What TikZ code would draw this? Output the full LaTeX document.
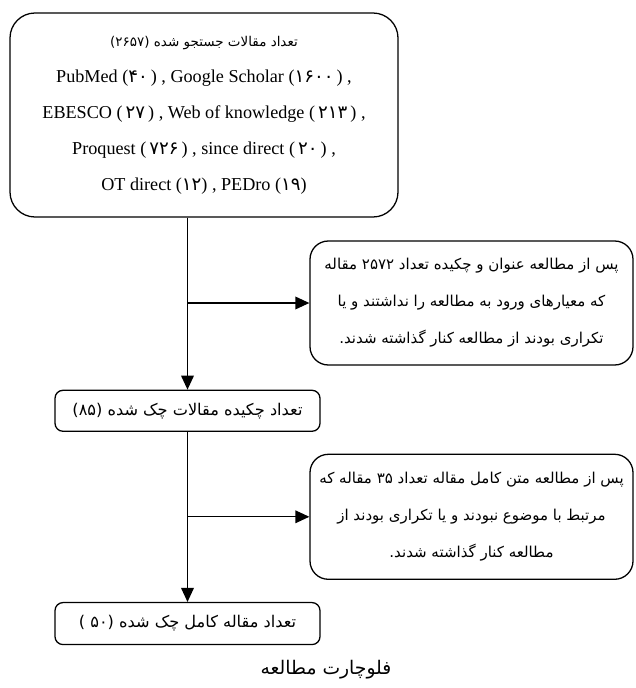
\documentclass[tikz,border=0pt]{standalone}
\usepackage{fontspec}
\setmainfont{Liberation Serif}
\newfontfamily\arabicfont[Script=Arabic]{DejaVu Sans}
\TeXXeTstate=1
\usetikzlibrary{shapes,arrows.meta,positioning}
\newcommand{\fa}[1]{{\arabicfont #1}}

\begin{document}
\begin{tikzpicture}[line width=1.1pt]
        \tikzstyle{searchbox} = [rectangle, draw, rounded corners=0.75cm, minimum width=11.64cm, minimum height=6.12cm, align=center, font=\fontsize{15.5}{30.7}\selectfont]
        \tikzstyle{countbox} = [rectangle, draw, rounded corners=0.24cm, minimum width=7.95cm, minimum height=1.23cm, align=center, font=\arabicfont\fontsize{13.8}{16}\selectfont]
        \tikzstyle{exclbox} = [rectangle, draw, rounded corners=0.55cm, minimum width=9.69cm, minimum height=3.72cm, align=center, inner xsep=2pt, font=\arabicfont\fontsize{12.8}{31.5}\selectfont]
        \tikzstyle{line} = [draw, -{Triangle[length=0.42cm, width=0.38cm]}]

        \useasboundingbox (0,0) rectangle (19.05,-20.64);

        \node [searchbox] (search) at (6.12,-3.45) {{\arabicfont\fontsize{11.5}{14}\selectfont\beginR تعداد مقالات جستجو شده (۲۶۵۷)\endR}\\
            PubMed (\fa{۴۰}\,) , Google Scholar (\fa{۱۶۰۰}\,) ,\\
            EBESCO (\,\fa{۲۷}\,) , Web of knowledge (\,\fa{۲۱۳}\,) ,\\
            Proquest (\,\fa{۷۲۶}\,) , since direct (\,\fa{۲۰}\,) ,\\
            OT direct (\fa{۱۲}) , PEDro (\fa{۱۹})};
        \node [countbox, below=5.16cm of search.south, xshift=-0.495cm] (abstracts) {\beginR تعداد چکیده مقالات چک شده (۸۵)\endR};
        \node [countbox, below=5.1cm of abstracts, minimum height=1.26cm] (fulltexts) {\beginR تعداد مقاله کامل چک شده (۵۰ )\endR};

        \node [exclbox] (exclone) at (14.145,-9.09) {\beginR پس از مطالعه عنوان و چکیده تعداد ۲۵۷۲ مقاله\endR\\
            \beginR که معیارهای ورود به مطالعه را نداشتند و یا\endR\\
            \beginR تکراری بودند از مطالعه کنار گذاشته شدند.\endR};
        \node [exclbox, below=2.64cm of exclone, minimum height=3.75cm] (excltwo) {\beginR پس از مطالعه متن کامل مقاله تعداد ۳۵ مقاله که\endR\\
            \beginR مرتبط با موضوع نبودند و یا تکراری بودند از\endR\\
            \beginR مطالعه کنار گذاشته شدند.\endR};

        \node [font=\arabicfont\fontsize{16}{18}\selectfont] (caption) at (9.78,-20.1) {\beginR فلوچارت مطالعه\endR};

        \path [line] (search.south -| abstracts) -- (abstracts);
        \path [line] (abstracts) -- (fulltexts);

        % Excluded articles
        \path [line] (exclone.west -| abstracts) -- (exclone.west);
        \path [line] (excltwo.west -| abstracts) -- (excltwo.west);
\end{tikzpicture}
\end{document}
